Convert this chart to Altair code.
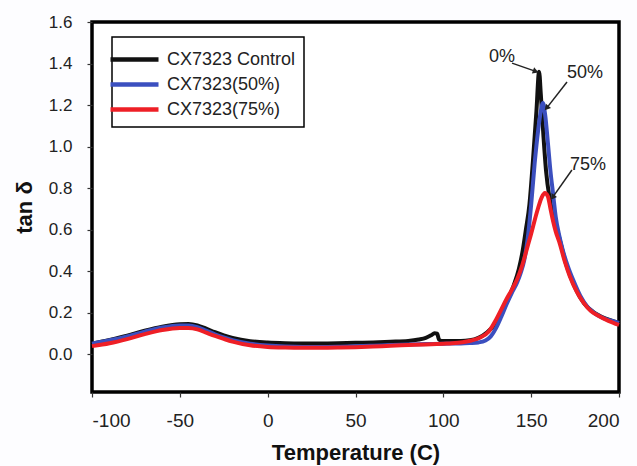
import altair as alt
import pandas as pd

# ---------------- data ----------------
series_names = ["CX7323 Control", "CX7323(50%)", "CX7323(75%)"]
series_colors = ["#111111", "#3b4fbf", "#ee1f26"]

t_ctrl = [-100, -90, -80, -70, -60, -50, -45, -40, -35, -30, -25, -20, -10, 0, 10, 20, 30, 40, 50, 60, 70, 80,
          86, 90, 93, 95, 96.5, 97.5, 99, 105, 110, 115, 120, 125, 130, 135, 140, 143, 145, 147, 149, 151, 153,
          154.5, 155.5, 157, 158.5, 160.5, 163, 166, 170, 175, 180, 185, 190, 195, 200]
v_ctrl = [0.050, 0.068, 0.088, 0.112, 0.132, 0.144, 0.145, 0.138, 0.122, 0.105, 0.090, 0.078, 0.062, 0.055,
          0.052, 0.051, 0.051, 0.052, 0.054, 0.056, 0.059, 0.063, 0.070, 0.078, 0.090, 0.100, 0.098, 0.070,
          0.063, 0.063, 0.063, 0.066, 0.078, 0.105, 0.150, 0.230, 0.330, 0.410, 0.490, 0.600, 0.720, 0.930,
          1.170, 1.360, 1.250, 1.050, 0.880, 0.750, 0.660, 0.560, 0.430, 0.320, 0.245, 0.205, 0.180, 0.163, 0.150]

t_50 = [-100, -90, -80, -70, -60, -50, -45, -40, -35, -30, -25, -20, -10, 0, 10, 20, 30, 40, 50, 60, 70, 80,
        90, 100, 110, 115, 120, 124, 127, 130, 133, 136, 139, 142, 144, 146, 148, 150, 152, 154, 155.5, 156.7,
        158, 159.5, 161, 162.5, 164, 166, 168, 171, 174, 178, 182, 186, 191, 195, 200]
v_50 = [0.050, 0.066, 0.085, 0.108, 0.128, 0.138, 0.138, 0.130, 0.113, 0.095, 0.080, 0.067, 0.050, 0.041,
        0.036, 0.034, 0.034, 0.035, 0.037, 0.040, 0.043, 0.046, 0.048, 0.050, 0.051, 0.053, 0.056, 0.065,
        0.085, 0.125, 0.180, 0.240, 0.295, 0.345, 0.390, 0.450, 0.555, 0.720, 0.920, 1.080, 1.170, 1.210,
        1.150, 1.020, 0.880, 0.770, 0.660, 0.570, 0.500, 0.420, 0.355, 0.280, 0.228, 0.197, 0.173, 0.162, 0.150]

t_75 = [-100, -90, -80, -70, -60, -50, -45, -40, -35, -30, -25, -20, -10, 0, 10, 20, 30, 40, 50, 60, 70, 80,
        90, 100, 105, 111, 116, 121, 126, 130, 133, 136, 139, 142, 145, 148, 150, 152, 154, 156, 157.8, 159.5,
        161, 162.5, 164, 166, 169, 172, 176, 180, 184, 188, 194, 200]
v_75 = [0.038, 0.052, 0.072, 0.096, 0.116, 0.126, 0.126, 0.119, 0.103, 0.087, 0.073, 0.060, 0.042, 0.034,
        0.031, 0.030, 0.030, 0.031, 0.033, 0.036, 0.040, 0.043, 0.046, 0.050, 0.052, 0.057, 0.065, 0.080,
        0.110, 0.165, 0.215, 0.265, 0.310, 0.360, 0.430, 0.520, 0.580, 0.645, 0.705, 0.755, 0.776, 0.760,
        0.700, 0.640, 0.590, 0.540, 0.450, 0.375, 0.300, 0.245, 0.207, 0.186, 0.160, 0.140]

# annotations (data coordinates)
ann_labels = ["0%", "50%", "75%"]
ann_text_x = [133.4, 180.6, 182.4]
ann_text_y = [1.431, 1.354, 0.911]
arrow_x1 = [139.1, 170.4, 173.2]
arrow_y1 = [1.402, 1.311, 0.887]
arrow_x2 = [152.6, 158.8, 162.2]
arrow_y2 = [1.362, 1.185, 0.755]
arrow_angle = [110, 220, 216]

x_ticks = [-100, -50, 0, 50, 100, 150, 200]
y_ticks = [0.0, 0.2, 0.4, 0.6, 0.8, 1.0, 1.2, 1.4, 1.6]

FONT = "Liberation Sans"

# ---------------- frames ----------------
frames = []
for name, ts, vs in [(series_names[0], t_ctrl, v_ctrl), (series_names[1], t_50, v_50), (series_names[2], t_75, v_75)]:
    frames.append(pd.DataFrame({"T": ts, "tan": vs, "series": name}))
curves = pd.concat(frames, ignore_index=True)

ann = pd.DataFrame({"label": ann_labels, "tx": ann_text_x, "ty": ann_text_y,
                    "x1": arrow_x1, "y1": arrow_y1, "x2": arrow_x2, "y2": arrow_y2, "ang": arrow_angle})

xscale = alt.Scale(domain=[-100, 200], nice=False, zero=False)
yscale = alt.Scale(domain=[-0.183, 1.6], nice=False, zero=False)

xaxis = alt.Axis(values=x_ticks, title="Temperature (C)", labelFontSize=19, labelPadding=14,
                 labelExpr="datum.value + ''",
                 titleFontSize=22, titleFontWeight="bold", titleY=60, titleBaseline="middle")
yaxis = alt.Axis(values=y_ticks, format=".1f", title="tan δ", labelFontSize=17, labelPadding=15,
                 titleFontSize=22, titleFontWeight="bold", titleX=-68, titleY=185, titleAngle=270,
                 titleAlign="center", titleBaseline="middle")

color = alt.Color("series:N",
                  scale=alt.Scale(domain=series_names, range=series_colors),
                  legend=alt.Legend(orient="none", legendX=20, legendY=15, title=None,
                                    strokeColor="black", fillColor="white", padding=8,
                                    labelFontSize=18, labelFont=FONT, labelColor="#222",
                                    symbolType="M-2,0H2", symbolSize=576, symbolStrokeWidth=4.5,
                                    labelOffset=18, rowPadding=1, cornerRadius=0))

layers = []
for i, name in enumerate(series_names):
    layers.append(
        alt.Chart(curves).transform_filter(alt.datum.series == name)
        .mark_line(strokeWidth=4, interpolate="monotone")
        .encode(x=alt.X("T:Q", scale=xscale, axis=xaxis),
                y=alt.Y("tan:Q", scale=yscale, axis=yaxis),
                color=color)
    )

arrows = alt.Chart(ann).mark_rule(color="#222", strokeWidth=1.5).encode(
    x=alt.X("x1:Q", scale=xscale), y=alt.Y("y1:Q", scale=yscale), x2="x2:Q", y2="y2:Q")
heads = alt.Chart(ann).mark_point(shape="triangle-up", filled=True, color="#222", size=45, opacity=1).encode(
    x=alt.X("x2:Q", scale=xscale), y=alt.Y("y2:Q", scale=yscale), angle=alt.Angle("ang:Q", scale=None))
texts = alt.Chart(ann).mark_text(fontSize=18, font=FONT, color="#222").encode(
    x=alt.X("tx:Q", scale=xscale), y=alt.Y("ty:Q", scale=yscale), text="label:N")

chart = alt.layer(*layers, arrows, heads, texts).properties(
    width=527, height=370,
    autosize=alt.AutoSizeParams(type="none"),
    padding={"left": 92, "top": 22, "right": 18, "bottom": 74},
    background="#fdfdff",
).configure_view(
    stroke="black", strokeWidth=3.5, fill="white"
).configure_axis(
    grid=False, domain=False, tickSize=5, tickColor="#333", tickWidth=1.2,
    labelFont=FONT, titleFont=FONT, labelColor="#222", titleColor="#111"
).configure_legend(
    strokeWidth=1.5
)

chart.save("out.html", embed_options={"renderer": "svg", "actions": False})
